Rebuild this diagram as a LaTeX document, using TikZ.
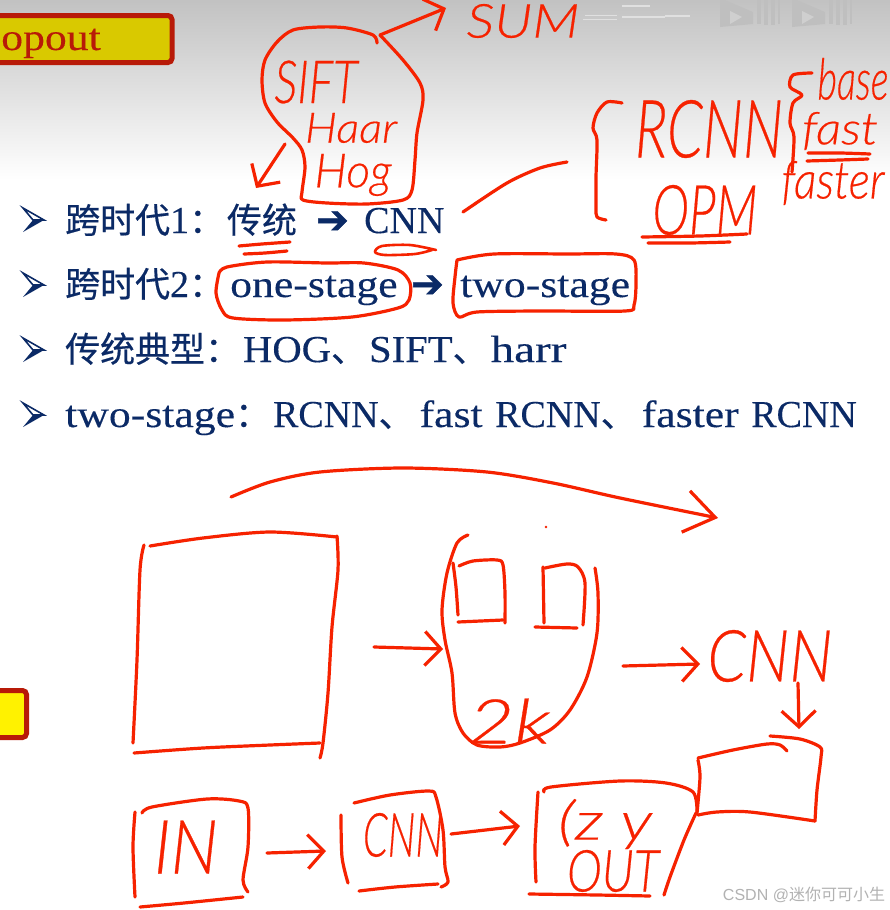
\documentclass[tikz,border=0pt]{standalone}
\usepackage{fontspec}
\usepackage{graphicx}
\setmainfont[FakeBold=0.25]{Liberation Serif}
\newfontfamily\cjk[Scale=0.92, FakeBold=0.5]{Noto Sans CJK SC}
\newfontfamily\lat[FakeStretch=1.15, FakeBold=0.25]{Liberation Serif}
\newfontfamily\capf[FakeStretch=1.07, FakeBold=0.25]{Liberation Serif}
\newfontfamily\harrf[FakeStretch=1.24, FakeBold=0.25]{Liberation Serif}
\newfontfamily\symfont[FakeBold=1]{DejaVu Sans}
\newfontfamily\handfont[FakeBold=0.4]{Lato Light}
\newfontfamily\markfont{Liberation Sans}
\newfontfamily\markcjk{Noto Sans CJK SC}
\usetikzlibrary{arrows.meta, positioning}
\definecolor{slidenavy}{HTML}{0B2A66}
\definecolor{inkred}{HTML}{F62200}
\definecolor{boxred}{HTML}{B81A08}
\definecolor{boxolive}{HTML}{D9C900}
\newcommand{\hand}[3]{\resizebox*{#1pt}{#2pt}{\handfont\itshape #3}}
\newcommand{\mao}{{\cjk ：}\kern3pt}
\newcommand{\dun}{{\cjk 、}\kern3pt}

\begin{document}
\begin{tikzpicture}[
        x=1pt, y=-1pt,
        slideline/.style={anchor=base west, inner sep=0pt, text=slidenavy, font=\fontsize{38}{40}\selectfont},
        arrowmark/.style={anchor=base west, inner sep=0pt, text=slidenavy, font=\symfont\fontsize{39}{40}\selectfont},
        handtext/.style={inner sep=0pt, text=inkred},
        ink/.style={draw=inkred, line width=3.2pt, line cap=round, line join=round},
        inkarr/.style={ink, -{Straight Barb[length=16pt, width=34pt]}},
        bigarr/.style={ink, -{Straight Barb[length=30pt, width=42pt]}},
        bulletmark/.pic={
            \fill[slidenavy] (-10,12) -- (11,0) -- (0,0) -- cycle;
            \draw[slidenavy, line width=1.6pt, line join=miter] (-10,-12) -- (11,0) -- (0,0) -- cycle;
        },
        logomark/.pic={
            \fill[black!25] (0,-2) -- (33,12) -- (33,24) -- (0,27) -- cycle;
            \fill[black!19] (10,11) -- (22,17) -- (10,24) -- cycle;
            \fill[black!25] (37,-2) rectangle (41,24);
            \fill[black!25] (44,-2) rectangle (48,25);
            \fill[black!25] (51,-2) rectangle (55,25);
            \fill[black!25] (58,-2) rectangle (60,24);
        },
    ]
    \useasboundingbox (0,0) rectangle (890,910);

    %% ===== Slide background =====
    \fill[white] (0,0) rectangle (890,910);
    \shade[top color=black!24, bottom color=white] (0,0) rectangle (890,180);
    \pic at (720,0) {logomark};
    \pic at (792,0) {logomark};
    \fill[black!12] (585,15) rectangle (617,16);
    \fill[black!12] (583,19) rectangle (617,20);
    \fill[black!12] (622,5) rectangle (650,7);
    \fill[black!12] (622,16) rectangle (665,18);
    \fill[black!12] (665,15) rectangle (690,17);

    %% ===== Title boxes =====
    \draw[draw=boxred, line width=5pt, fill=boxolive, rounded corners=4pt] (-20,15.5) rectangle (172,62.5);
    \node[anchor=base east, inner sep=0pt, text=boxred, font=\lat\fontsize{38}{40}\selectfont] (titletext) at (101,50) {opout};
    \draw[draw=boxred, line width=5pt, fill=yellow, rounded corners=4pt] (-20,690.5) rectangle (26.5,737.5);

    %% ===== Bullet lines =====
    \pic at (33,220) {bulletmark};
    \pic at (33,285) {bulletmark};
    \pic at (33,350) {bulletmark};
    \pic at (33,415) {bulletmark};

    \node[slideline] (lineone) at (65,233) {{\cjk 跨时代}1\mao{\cjk 传统}};
    \node[arrowmark] (arrone) at (316,233) {➔};
    \node[slideline] (cnnone) at (364,233) {CNN};

    \node[slideline] (linetwo) at (65,297) {{\cjk 跨时代}2{\cjk ：}};
    \node[slideline] (onestage) at (230,297) {{\lat one-stage}};
    \node[arrowmark] (arrtwo) at (411,297) {➔};
    \node[slideline] (twostage) at (460,297) {{\lat two-stage}};

    \node[slideline] (linethree) at (65,362) {{\cjk 传统典型}\mao{\capf HOG}\dun{\capf SIFT}\dun{\harrf harr}};
    \node[slideline] (linefour) at (65,427) {{\lat two-stage}\mao RCNN\dun\kern3pt{\lat fast}\kern3pt{} RCNN\dun\kern3pt{\lat faster}\kern3pt{} RCNN};

    %% ===== Top annotations =====
    \node[handtext] (sumtext) at (523,21) {\hand{113}{34}{SUM}};
    \node[handtext] (sifttext) at (316,82) {\hand{83}{43}{SIFT}};
    \node[handtext] (haartext) at (351,128) {\hand{92}{30}{Haar}};
    \node[handtext] (hogtext) at (353,175) {\hand{77}{42}{Hog}};
    \node[handtext] (rcnntext) at (709,129) {\hand{148}{58}{RCNN}};
    \node[handtext] (opmtext) at (705,210) {\hand{105}{50}{OPM}};
    \node[handtext] (basetext) at (853,79) {\hand{71}{42}{base}};
    \node[handtext] (fasttext) at (840,131) {\hand{76}{38}{fast}};
    \node[handtext] (fastertext) at (833,183) {\hand{103}{44}{faster}};

    %% blob round the features
    \draw[ink] plot[smooth] coordinates {(377,43) (373,35) (347,28) (320,27) (293,30) (277,42) (265,60) (262,80) (265,103) (277,122) (293,138) (302,150) (305,167) (302,192) (303,200) (327,203) (367,204) (403,200) (412,190) (415,160) (417,133) (423,100) (420,83) (403,60) (380,35)};
    \coordinate (blobtop) at (380,35);
    \coordinate (sumtip) at (446,8);
    \draw[inkarr] (blobtop) -- (sumtip);
    \coordinate (blobleft) at (285,144);
    \coordinate (cnntip) at (256,188);
    \draw[inkarr] (blobleft) -- (cnntip);

    %% underlines
    \draw[ink] plot[smooth] coordinates {(239,246) (262,244) (290,242)};
    \draw[ink] plot[smooth] coordinates {(244,254) (265,253) (287,251)};
    \draw[ink, line width=2.6pt] plot[smooth] coordinates {(436,250) (410,245) (382,246) (375,252) (385,255) (415,254) (432,250)};
    \draw[ink] plot[smooth] coordinates {(808,153) (840,153) (870,154)};
    \draw[ink] plot[smooth] coordinates {(807,161) (840,160) (868,159)};
    \draw[ink] plot[smooth] coordinates {(642,237) (700,236) (747,234)};
    \draw[ink] plot[smooth] coordinates {(648,243) (690,243) (730,242)};

    %% curve and braces
    \draw[ink] plot[smooth] coordinates {(463,212) (507,183) (540,168) (567,162)};
    \draw[ink] plot[smooth] coordinates {(622,103) (607,102) (597,113) (593,128) (597,140) (596,177) (596,207) (597,217) (606,220)};
    \draw[ink] plot[smooth] coordinates {(812,73) (793,75) (790,87) (802,95) (793,103) (790,123) (794,137) (792,172)};

    %% rings round the stages
    \draw[ink] plot[smooth] coordinates {(219,273) (227,267) (267,262) (327,263) (364,263) (398,270) (410,283) (409,300) (398,308) (352,317) (284,320) (233,318) (222,310) (216,293) (219,273)};
    \draw[ink] plot[smooth] coordinates {(457,260) (494,254) (568,254) (616,254) (634,260) (636,283) (634,305) (625,311) (540,311) (477,312) (459,317) (453,303) (455,277) (457,260)};

    %% ===== Big arc =====
    \draw[bigarr] plot[smooth] coordinates {(231,497) (270,482) (320,472) (403,468) (487,472) (553,483) (620,498) (718,518)};

    %% ===== Image square =====
    \draw[ink] plot[smooth] coordinates {(144,545) (140,570) (137,660) (133,743)};
    \draw[ink] plot[smooth] coordinates {(150,546) (203,538) (270,532) (337,537)};
    \draw[ink] plot[smooth] coordinates {(337,536) (338,570) (332,627) (328,693) (323,743) (320,758)};
    \draw[ink] plot[smooth] coordinates {(134,753) (203,748) (270,745) (320,743)};

    \coordinate (squareout) at (374,647);
    \coordinate (facein) at (443,649);
    \draw[inkarr] (squareout) -- (facein);

    %% ===== Proposal shape =====
    \draw[ink] plot[smooth] coordinates {(468,535) (457,543) (447,573) (442,610) (445,640) (452,673) (455,713) (463,733) (477,745) (500,747) (520,743) (550,730) (570,710) (587,677) (597,633) (598,593) (595,568)};
    \draw[ink] plot[smooth] coordinates {(453,563) (456,587) (458,615)};
    \draw[ink] plot[smooth] coordinates {(459,566) (473,561) (497,560) (503,565) (505,593) (505,623)};
    \draw[ink] (458,622) -- (503,620);
    \draw[ink] (543,567) -- (544,623);
    \draw[ink] plot[smooth] coordinates {(545,568) (567,564) (578,567) (585,583) (583,625)};
    \draw[ink] (535,627) -- (577,628);
    \fill[inkred] (546,527) circle (1.3pt);
    \node[handtext] (twok) at (509,721) {\hand{82}{45}{2k}};

    \coordinate (faceout) at (623,666);
    \coordinate (cnnin) at (700,664);
    \draw[inkarr] (faceout) -- (cnnin);
    \node[handtext] (cnnhand) at (770,656) {\hand{125}{52}{CNN}};

    %% ===== Small box under CNN =====
    \coordinate (cnnbelow) at (798,683);
    \coordinate (boxtop) at (799,729);
    \draw[inkarr] (cnnbelow) -- (boxtop);
    \draw[ink] plot[smooth] coordinates {(698,758) (733,750) (767,744) (780,745) (787,751)};
    \draw[ink] plot[smooth] coordinates {(770,736) (800,739) (820,747) (821,757) (817,790) (815,821)};
    \draw[ink] plot[smooth] coordinates {(698,760) (700,777) (697,813)};
    \draw[ink] plot[smooth] coordinates {(698,815) (717,812) (750,812) (815,821)};

    %% ===== Bottom row =====
    \draw[ink] plot[smooth] coordinates {(135,812) (133,847) (135,897)};
    \draw[ink] plot[smooth] coordinates {(142,813) (152,807) (207,799) (239,801) (248,808) (248,847) (243,880) (248,892)};
    \draw[ink] plot[smooth] coordinates {(140,907) (184,903) (243,897)};
    \node[handtext] (intext) at (186,847) {\hand{64}{53}{IN}};

    \coordinate (inout) at (267,853);
    \coordinate (cnnboxin) at (326,851);
    \draw[inkarr] (inout) -- (cnnboxin);

    \draw[ink] plot[smooth] coordinates {(341,815) (342,857) (348,883)};
    \draw[ink] plot[smooth] coordinates {(354,803) (390,795) (429,791) (436,797) (443,830) (445,867) (448,882) (441,887)};
    \draw[ink] plot[smooth] coordinates {(359,891) (395,887) (438,884)};
    \node[handtext] (cnnsmall) at (403,835) {\hand{80}{44}{CNN}};

    \coordinate (cnnboxout) at (451,834);
    \coordinate (outin) at (520,826);
    \draw[inkarr] (cnnboxout) -- (outin);

    \draw[ink] plot[smooth] coordinates {(538,792) (535,847) (536,882)};
    \draw[ink] plot[smooth] coordinates {(544,792) (551,787) (620,781) (666,783) (693,792) (697,812)};
    \draw[ink] plot[smooth] coordinates {(696,813) (684,840) (670,877) (664,895)};
    \draw[ink] plot[smooth] coordinates {(529,894) (597,895) (650,896)};
    \node[handtext] (xytext) at (605,824) {\hand{94}{50}{(z y}};
    \node[handtext] (outtext) at (613,871) {\hand{92}{42}{OUT}};

    %% ===== Watermark =====
    \node[inner sep=0pt, text=black!30, font=\markfont\fontsize{16}{18}\selectfont] (csdnmark) at (804,895) {CSDN @{\markcjk 迷你可可小生}};
    \end{tikzpicture}
\end{document}
